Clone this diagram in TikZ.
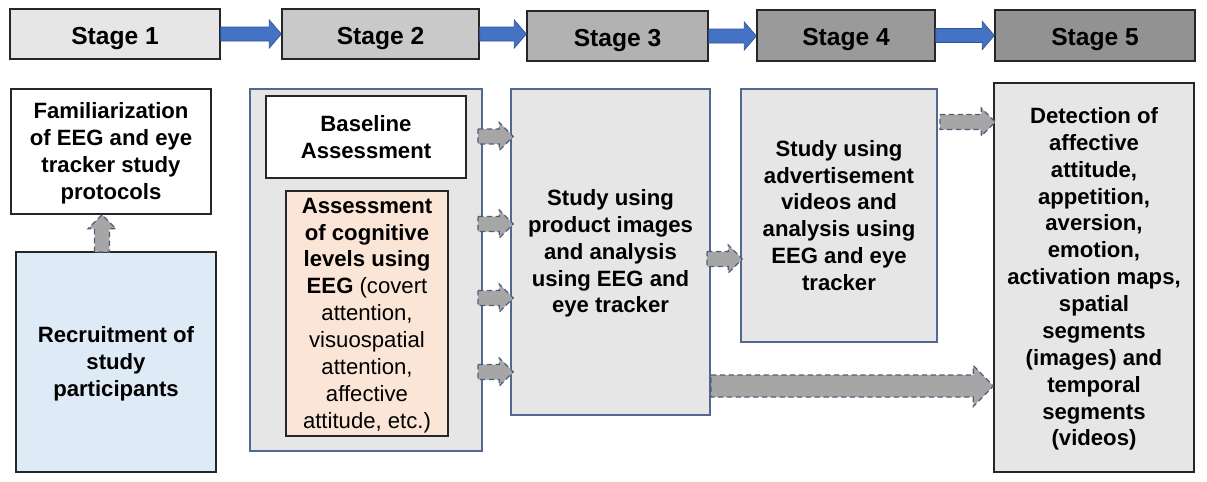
\documentclass[tikz,border=0pt]{standalone}
\usepackage{fontspec}
\setmainfont{Liberation Sans}
\usetikzlibrary{calc}

\definecolor{stageA}{HTML}{E7E6E6}
\definecolor{stageB}{HTML}{C9C9C9}
\definecolor{stageC}{HTML}{B2B2B2}
\definecolor{stageD}{HTML}{9A9A9A}
\definecolor{stageE}{HTML}{929292}
\definecolor{panelgray}{HTML}{E7E6E6}
\definecolor{panelline}{HTML}{51698F}
\definecolor{recruitblue}{HTML}{DEEAF6}
\definecolor{assesspeach}{HTML}{FBE5D6}
\definecolor{arrowblue}{HTML}{4472C4}
\definecolor{arrowline}{HTML}{2F5597}
\definecolor{arrowgray}{HTML}{A6A6A6}
\definecolor{arrowdash}{HTML}{4F5F78}

\newcommand{\liftline}{\rule{0pt}{10.8pt}}

\tikzset{
  stagebox/.style={draw=black!85,line width=0.8pt,inner sep=0pt,font=\fontsize{14}{17}\selectfont\bfseries,
    execute at begin node={\rule{0pt}{14.7pt}}},
  textbox/.style={draw=black!85,line width=0.8pt,inner sep=0pt,align=center,font=\fontsize{12.6}{15.3}\selectfont\bfseries},
  panelbox/.style={textbox,draw=panelline,fill=panelgray},
  blockarrow/.style n args={3}{to path={
    ($(\tikztostart)!#1!90:(\tikztotarget)$)
    -- ($(\tikztotarget)!#3!(\tikztostart)!#1!90:(\tikztotarget)$)
    -- ($(\tikztotarget)!#3!(\tikztostart)!#2!90:(\tikztotarget)$)
    -- (\tikztotarget)
    -- ($(\tikztotarget)!#3!(\tikztostart)!#2!-90:(\tikztotarget)$)
    -- ($(\tikztotarget)!#3!(\tikztostart)!#1!-90:(\tikztotarget)$)
    -- ($(\tikztostart)!#1!-90:(\tikztotarget)$) -- cycle}},
  stagearrow/.style={blockarrow={0.14cm}{0.28cm}{0.24cm},fill=arrowblue,draw=arrowline,line width=0.4pt},
  studyarrow/.style={blockarrow={0.15cm}{0.28cm}{0.28cm},fill=arrowgray,draw=arrowdash,line width=0.7pt,densely dashed},
  widearrow/.style={blockarrow={0.22cm}{0.41cm}{0.4cm},fill=arrowgray,draw=arrowdash,line width=0.7pt,densely dashed}
}

\begin{document}
\begin{tikzpicture}[x=0.02cm,y=-0.02cm]
  \useasboundingbox (0,0) rectangle (1207,481);

% stage headers
  \node[stagebox,fill=stageA,minimum width=4.2cm,minimum height=1.0cm] (stage1) at (115,34) {Stage 1};
  \node[stagebox,fill=stageB,minimum width=3.94cm,minimum height=1.0cm] (stage2) at (380.5,34) {Stage 2};
  \node[stagebox,fill=stageC,minimum width=3.62cm,minimum height=1.0cm] (stage3) at (617.5,36) {Stage 3};
  \node[stagebox,fill=stageD,minimum width=3.56cm,minimum height=1.02cm] (stage4) at (846,35.5) {Stage 4};
  \node[stagebox,fill=stageE,minimum width=4.0cm,minimum height=1.02cm] (stage5) at (1095,35.5) {Stage 5};

% stage 1 column
  \node[textbox,fill=white,minimum width=4.0cm,minimum height=2.5cm] (familiar) at (111,151.5)
    {\liftline Familiarization\\of EEG and eye\\tracker study\\protocols};
  \node[textbox,fill=recruitblue,minimum width=4.0cm,minimum height=4.4cm] (recruit) at (116,362)
    {\liftline Recruitment of\\study\\participants};

% stage 2 column
  \node[panelbox,minimum width=4.64cm,minimum height=7.24cm] (group) at (366,270) {};
  \node[textbox,fill=white,minimum width=4.0cm,minimum height=1.64cm] (baseline) at (366,137)
    {Baseline\\Assessment};
  \node[textbox,fill=assesspeach,minimum width=3.24cm,minimum height=4.9cm] (cognitive) at (367,313.5)
    {\liftline Assessment\\of cognitive\\levels using\\EEG \mdseries(covert\\\mdseries attention,\\\mdseries visuospatial\\\mdseries attention,\\\mdseries affective\\\mdseries attitude, etc.)};

% stage 3 to 5 columns
  \node[panelbox,minimum width=3.98cm,minimum height=6.52cm] (images) at (610.5,252)
    {\liftline Study using\\product images\\and analysis\\using EEG and\\eye tracker};
  \node[panelbox,minimum width=3.92cm,minimum height=5.06cm] (videos) at (839,215.5)
    {Study using\\advertisement\\videos and\\analysis using\\EEG and eye\\tracker};
  \node[textbox,fill=panelgray,minimum width=4.0cm,minimum height=7.78cm] (detect) at (1094,277.5)
    {\liftline Detection of\\affective\\attitude,\\appetition,\\aversion,\\emotion,\\activation maps,\\spatial\\segments\\(images) and\\temporal\\segments\\(videos)};

% free ends of the grey arrows
  \coordinate (g1) at (478,136.5);
  \coordinate (g2) at (478,224);
  \coordinate (g3) at (478,298);
  \coordinate (g4) at (478,372);
  \coordinate (g5) at (707,259);
  \coordinate (g6) at (940,122);
  \coordinate (g7) at (711,386);
  \coordinate (g8) at (102,252);

% stage arrows
  \draw[stagearrow] (stage1.east) to (stage2.west);
  \draw[stagearrow] (stage2.east) to (stage3.west |- stage2.east);
  \draw[stagearrow] (stage3.east) to (stage4.west |- stage3.east);
  \draw[stagearrow] (stage4.east) to (stage5.west);

% study arrows
  \draw[studyarrow] (g8) to (g8 |- familiar.south);
  \draw[studyarrow] (g1) to ($(g1 -| images.west)+(3,0)$);
  \draw[studyarrow] (g2) to ($(g2 -| images.west)+(3,0)$);
  \draw[studyarrow] (g3) to ($(g3 -| images.west)+(3,0)$);
  \draw[studyarrow] (g4) to ($(g4 -| images.west)+(3,0)$);
  \draw[studyarrow] (g5) to ($(g5 -| videos.west)+(2,0)$);
  \draw[studyarrow] (g6) to ($(g6 -| detect.west)+(2,0)$);
  \draw[widearrow]  (g7) to (g7 -| detect.west);
\end{tikzpicture}
\end{document}
